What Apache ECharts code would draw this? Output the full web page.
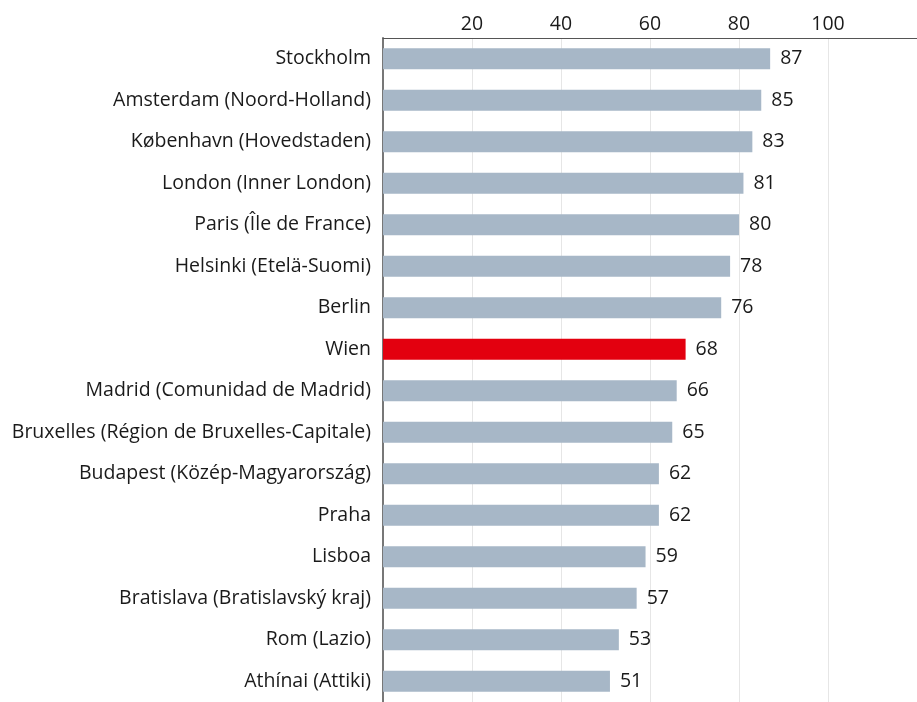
<!DOCTYPE html>
<html>
<head>
<meta charset="utf-8">
<script src="https://cdn.jsdelivr.net/npm/echarts@6/dist/echarts.min.js"></script>
<style>
  html, body { margin: 0; padding: 0; background: #fff; }
  #chart { width: 917px; height: 702px; }
</style>
</head>
<body>
<div id="chart"></div>
<script>
const regions = [
  'Stockholm',
  'Amsterdam (Noord-Holland)',
  'København (Hovedstaden)',
  'London (Inner London)',
  'Paris (Île de France)',
  'Helsinki (Etelä-Suomi)',
  'Berlin',
  'Wien',
  'Madrid (Comunidad de Madrid)',
  'Bruxelles (Région de Bruxelles-Capitale)',
  'Budapest (Közép-Magyarország)',
  'Praha',
  'Lisboa',
  'Bratislava (Bratislavský kraj)',
  'Rom (Lazio)',
  'Athínai (Attiki)'
]
const values = [87, 85, 83, 81, 80, 78, 76, 68, 66, 65, 62, 62, 59, 57, 53, 51]
const highlight = 'Wien'

const font = 'Open Sans'
const fs = 19.5
const myChart = echarts.init(document.getElementById('chart'))
myChart.setOption({
  animation: false,
  grid: {
    left: 383,
    right: 0,
    top: 38,
    height: 673,
  },
  xAxis: {
    type: 'value',
    position: 'top',
    min: 0,
    max: 120,
    interval: 20,
    axisLine: { show: true, lineStyle: { color: '#555', width: 1 } },
    axisTick: { show: false },
    axisLabel: {
      showMinLabel: false,
      showMaxLabel: false,
      color: '#1a1a1a',
      fontSize: fs,
      fontFamily: font,
      margin: 4,
    },
    splitLine: { lineStyle: { color: '#e6e6e6', width: 1 } },
  },
  yAxis: {
    type: 'category',
    inverse: true,
    data: regions,
    axisLine: { show: true, lineStyle: { color: '#777', width: 2 } },
    axisTick: { show: false },
    axisLabel: {
      color: '#1a1a1a',
      fontSize: fs,
      fontFamily: font,
      margin: 12,
    },
  },
  series: [
    {
      type: 'bar',
      barWidth: 21,
      data: values.map((v, i) => ({
        value: v,
        itemStyle: { color: regions[i] === highlight ? '#e3000f' : '#a7b7c7' },
      })),
      label: {
        show: true,
        position: 'right',
        distance: 10,
        color: '#1a1a1a',
        fontSize: fs,
        fontFamily: font,
      },
    },
  ],
})
</script>
</body>
</html>
